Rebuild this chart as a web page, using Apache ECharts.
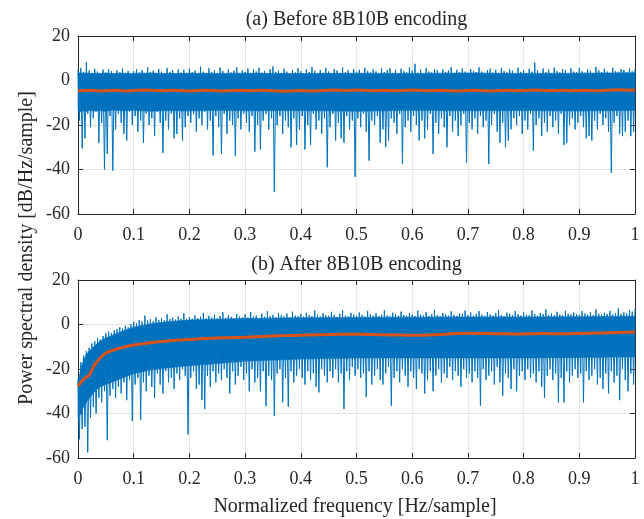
<!DOCTYPE html>
<html>
<head>
<meta charset="utf-8">
<script src="https://cdn.jsdelivr.net/npm/echarts@6/dist/echarts.min.js"></script>
<style>
  html, body { margin: 0; padding: 0; background: #fff; }
  #main { width: 644px; height: 519px; }
</style>
</head>
<body>
<div id="main"></div>
<script>
// DATA
// blue trace: local maxima every 0.005 (x = 0 .. 1)
// and local minima between them (x = 0.0025 .. 0.9975)
var beforePeaks = [
  4.8, 5.6, 3.9, 8.2, 4.5, 3.4, 5.3, 4.0, 2.6, 4.9, 3.5, 5.0, 4.2, 2.9, 4.6, 3.7, 5.4, 3.1, 4.3, 2.8,
  4.1, 5.1, 3.6, 4.7, 2.9, 5.9, 3.8, 4.4, 3.0, 5.2, 4.0, 3.3, 5.6, 3.9, 4.6, 2.7, 5.0, 3.5, 4.8, 3.2,
  5.3, 3.7, 4.5, 2.8, 6.2, 4.0, 3.4, 5.5, 3.9, 4.7, 3.1, 5.8, 4.3, 2.9, 5.0, 3.6, 4.4, 6.0, 3.3, 4.6,
  3.8, 5.4, 3.0, 4.9, 4.1, 5.7, 3.5, 4.3, 2.8, 5.1, 6.3, 3.9, 4.5, 3.2, 5.3, 4.0, 2.7, 4.8, 3.6, 5.5,
  4.2, 3.3, 5.0, 3.8, 6.1, 4.4, 2.9, 4.7, 3.5, 5.6, 4.1, 3.0, 5.2, 4.5, 3.4, 5.9, 3.7, 4.6, 2.8, 5.1,
  3.9, 4.8, 3.2, 5.7, 4.3, 3.6, 5.0, 4.1, 2.9, 5.4, 3.8, 4.6, 5.5, 3.4, 4.9, 3.1, 5.3, 4.2, 3.7, 5.8,
  4.4, 7.5, 3.5, 4.9, 3.0, 5.6, 4.1, 3.6, 5.2, 4.7, 2.8, 5.0, 3.9, 4.5, 6.0, 3.3, 4.8, 3.7, 5.4, 4.0,
  3.2, 5.1, 4.3, 3.8, 5.9, 4.0, 2.9, 4.6, 5.3, 3.5, 4.8, 3.1, 5.5, 4.2, 3.6, 5.0, 4.4, 3.0, 5.7, 3.9,
  4.7, 3.4, 5.2, 4.0, 8.0, 4.5, 3.1, 5.4, 3.8, 4.9, 3.3, 5.8, 4.2, 3.6, 5.1, 4.6, 2.9, 5.5, 4.0, 3.7,
  5.6, 4.1, 3.5, 5.0, 4.4, 3.2, 6.1, 4.6, 3.8, 5.3, 4.0, 3.4, 5.7, 4.3, 3.9, 5.1, 4.8, 3.6, 5.4, 4.2,
  5.0
];
var beforeDips = [
  -18, -30.5, -26, -15, -21, -17, -14, -28, -19, -40, -33, -16, -40.5, -22, -15, -19, -24, -27, -14, -20,
  -16, -23, -18, -28, -15, -20, -17, -25, -14, -19, -32.6, -18, -22, -15, -26, -24, -17, -27, -21, -16,
  -19, -15, -23, -17, -20, -14, -22, -18, -33.7, -16, -21, -33, -15, -24, -18, -20, -34, -17, -22, -15,
  -19, -23, -16, -32, -20, -31, -18, -15, -22, -17, -50, -20, -16, -24, -18, -21, -30, -17, -29, -22,
  -16, -31, -20, -29, -15, -22, -18, -24, -17, -39, -21, -15, -27, -19, -26, -28, -16, -22, -18, -43.3,
  -17, -21, -15, -23, -36, -18, -20, -16, -28, -22, -30, -27, -17, -19, -24, -15, -37.5, -21, -18, -23,
  -16, -20, -27, -18, -26, -22, -15, -33, -19, -24, -17, -21, -30, -16, -23, -18, -25, -20, -15, -37,
  -19, -22, -17, -24, -16, -21, -18, -37.5, -20, -15, -23, -28, -19, -30, -27, -22, -17, -20, -16, -24,
  -18, -22, -15, -31.5, -20, -17, -25, -19, -23, -16, -21, -18, -24, -15, -29, -28, -20, -17, -22, -19,
  -16, -21, -26, -25, -27, -18, -22, -15, -20, -17, -23, -41.5, -19, -16, -24, -25, -23, -18, -25, -23
];
var afterPeaks = [
  -24, -17, -14, -12, -10.5, -8.5, -7.5, -6, -6.8, -5.2, -4, -3.2, -3.8, -2.6, -2, -1.2, -1.8, -0.6, -1.3, 0.2,
  1.2, 0.6, 2.0, 1.4, 4.0, 1.8, 2.4, 1.5, 3.2, 2.1, 2.8, 1.9, 4.6, 2.5, 3.0, 2.2, 3.6, 2.7, 5.0, 2.4,
  3.3, 2.6, 4.1, 2.9, 3.5, 5.2, 2.8, 3.9, 3.1, 4.4, 2.7, 3.8, 5.5, 3.0, 4.2, 3.4, 2.9, 4.7, 3.6, 3.2,
  4.5, 3.1, 5.6, 3.7, 4.0, 2.9, 4.8, 3.5, 6.0, 3.8, 4.3, 3.2, 5.1, 4.1, 3.6, 4.9, 3.3, 5.8, 4.0, 3.7,
  4.6, 3.5, 5.3, 4.2, 3.8, 6.3, 4.4, 3.6, 5.0, 4.1, 3.9, 5.7, 4.3, 3.4, 4.8, 6.5, 4.0, 3.7, 5.2, 4.5,
  3.9, 5.4, 4.2, 3.6, 6.1, 4.7, 4.0, 5.0, 3.8, 4.4, 6.4, 4.1, 3.7, 5.3, 4.6, 3.9, 5.8, 4.3, 4.0, 5.1,
  4.4, 3.8, 6.2, 4.5, 4.1, 5.5, 3.9, 4.7, 6.6, 4.2, 3.8, 5.2, 4.6, 4.0, 5.9, 4.3, 3.9, 5.0, 4.8, 6.3,
  4.2, 5.4, 4.0, 4.7, 6.0, 4.4, 3.9, 5.6, 4.5, 4.1, 5.1, 6.4, 4.3, 3.8, 5.3, 4.8, 4.2, 6.1, 4.6, 4.0,
  5.5, 4.4, 4.1, 6.3, 4.7, 4.0, 5.2, 4.6, 6.8, 4.3, 4.9, 4.1, 5.7, 4.5, 4.2, 6.2, 4.8, 4.4, 5.4, 4.6,
  4.3, 6.0, 4.9, 4.5, 5.6, 4.2, 6.7, 4.8, 4.4, 5.3, 4.7, 6.1, 4.5, 5.0, 7.2, 4.6, 5.4, 4.9, 6.4, 5.8,
  7.0
];
var afterDips = [
  -51.6, -47, -46, -57.5, -42, -37, -40, -33, -35, -30, -52, -32, -29, -33, -28, -31, -26, -34, -25, -43.4,
  -27, -24, -42.8, -26, -30, -23, -28, -33, -22, -27, -31, -21, -26, -24, -29, -22, -25, -20, -23, -49.4,
  -24, -21, -29, -27, -34, -38, -23, -28, -21, -26, -22, -25, -20, -24, -31, -21, -27, -23, -19, -25,
  -22, -30, -20, -26, -24, -30, -21, -36.7, -23, -25, -41, -22, -20, -35, -24, -37, -21, -26, -23, -20,
  -24, -27, -21, -25, -22, -28, -30.5, -20, -23, -26, -21, -24, -20, -26, -22, -38, -21, -25, -19, -23,
  -20, -24, -22, -32.6, -21, -27, -23, -20, -25, -27, -22, -19, -36.5, -24, -21, -26, -20, -23, -28, -21,
  -24, -29, -20, -22, -31, -25, -21, -30, -23, -20, -26, -22, -24, -19, -25, -21, -23, -28, -20, -24,
  -22, -26, -21, -24, -36.5, -20, -25, -23, -21, -27, -19, -26, -32, -22, -24, -29, -20, -30, -23, -21,
  -25, -20, -24, -22, -26, -21, -28, -33, -23, -20, -25, -22, -35, -24, -35, -21, -26, -23, -20, -24,
  -22, -35, -21, -25, -23, -20, -27, -24, -29, -22, -31, -21, -26, -23, -34, -20, -25, -30, -22, -27
];
// solid (dense) part of the blue trace
var bandX = [0, 0.005, 0.01, 0.015, 0.02, 0.03, 0.04, 0.05, 0.06, 0.08, 0.1, 0.13, 0.16, 0.2, 0.25, 0.3, 0.4, 0.5, 0.6, 0.7, 0.8, 0.9, 1.0];
var beforeBandHi = [3.3, 3.5, 3.2, 3.4, 3.1, 3.3, 3.2, 3.4, 3.1, 3.3, 3.2, 3.4, 3.1, 3.3, 3.2, 3.3, 3.1, 3.3, 3.2, 3.4, 3.2, 3.3, 3.5];
var beforeBandLo = [-13.5, -14, -13.6, -13.8, -13.4, -13.7, -13.5, -13.9, -13.3, -13.6, -13.4, -13.8, -13.5, -13.7, -13.4, -13.6, -13.5, -13.8, -13.4, -13.6, -13.5, -13.7, -13.4];
var afterBandHi = [-26, -20, -16, -13.5, -12, -9.5, -7.5, -6, -5, -3, -1.2, 0.3, 1.2, 2.0, 2.4, 2.7, 3.0, 3.2, 3.3, 3.4, 3.4, 3.5, 3.7];
var afterBandLo = [-42, -40, -37, -35, -33, -30, -28, -27, -26, -24, -22, -20.5, -19.5, -18.5, -17.5, -16.5, -15.5, -15, -15, -15, -15, -14.8, -14.5];
// orange smoothed curve, every 0.01
var beforeMean = [
  -4.5, -4.6, -4.4, -4.5, -4.7, -4.6, -4.5, -4.4, -4.6, -4.7,
  -4.5, -4.4, -4.3, -4.4, -4.5, -4.6, -4.5, -4.4, -4.5, -4.6,
  -4.7, -4.6, -4.5, -4.4, -4.5, -4.6, -4.7, -4.6, -4.5, -4.4,
  -4.5, -4.6, -4.5, -4.4, -4.5, -4.6, -4.7, -4.8, -4.7, -4.6,
  -4.5, -4.6, -4.7, -4.6, -4.5, -4.4, -4.3, -4.4, -4.5, -4.4,
  -4.3, -4.4, -4.5, -4.6, -4.5, -4.4, -4.5, -4.6, -4.5, -4.4,
  -4.3, -4.4, -4.5, -4.6, -4.5, -4.4, -4.5, -4.6, -4.7, -4.6,
  -4.5, -4.4, -4.5, -4.6, -4.7, -4.6, -4.5, -4.4, -4.5, -4.6,
  -4.5, -4.4, -4.3, -4.4, -4.5, -4.6, -4.5, -4.4, -4.5, -4.6,
  -4.5, -4.4, -4.5, -4.6, -4.5, -4.4, -4.3, -4.2, -4.3, -4.4, -4.3
];
var afterMean = [
  -27.7, -24.6, -22.8, -18, -15, -12.8, -11.8, -11, -10.3, -9.7,
  -9.2, -8.9, -8.5, -8.2, -7.9, -7.6, -7.4, -7.2, -7.0, -6.9,
  -6.7, -6.6, -6.4, -6.3, -6.2, -6.1, -6.0, -5.9, -5.8, -5.8,
  -5.7, -5.6, -5.5, -5.4, -5.3, -5.2, -5.1, -5.0, -4.9, -4.9,
  -4.8, -4.7, -4.7, -4.6, -4.6, -4.5, -4.5, -4.4, -4.4, -4.4,
  -4.4, -4.4, -4.5, -4.5, -4.6, -4.6, -4.7, -4.7, -4.7, -4.8,
  -4.8, -4.8, -4.8, -4.7, -4.6, -4.5, -4.4, -4.2, -4.1, -4.0,
  -3.9, -3.9, -4.0, -4.1, -4.1, -4.2, -4.2, -4.2, -4.3, -4.3,
  -4.3, -4.2, -4.2, -4.1, -4.1, -4.2, -4.2, -4.2, -4.2, -4.1,
  -4.0, -3.9, -3.9, -3.8, -3.8, -3.7, -3.7, -3.6, -3.5, -3.5, -3.4
];
var titles = ['(a) Before 8B10B encoding', '(b) After 8B10B encoding'];
var xName = 'Normalized frequency [Hz/sample]';
var yName = 'Power spectral density [dB/Hz/sample]';

var FONT = 'Liberation Serif';
var INK = '#262626';
var BLUE = '#0072BD';
var ORANGE = '#D95319';

// peaks and dips alternate along x
function trace(peaks, dips) {
  var out = [];
  for (var i = 0; i < peaks.length; i++) {
    out.push([i * 0.005, peaks[i]]);
    if (i < dips.length) out.push([i * 0.005 + 0.0025, dips[i]]);
  }
  return out;
}
function curve(vals) {
  return vals.map(function (v, i) { return [i * 0.01, v]; });
}
function band(lo, hi) {
  return bandX.map(function (x, i) { return [x, lo[i], hi[i]]; });
}

// one quad per band segment, corners through the axes
function renderBand(params, api) {
  var i = params.dataIndexInside;
  if (i >= params.dataInsideLength - 1) return null;
  var x0 = api.value(0, i), x1 = api.value(0, i + 1);
  var pts = [
    api.coord([x0, api.value(2, i)]),
    api.coord([x1, api.value(2, i + 1)]),
    api.coord([x1, api.value(1, i + 1)]),
    api.coord([x0, api.value(1, i)])
  ];
  return {
    type: 'polygon',
    shape: {points: pts},
    style: {fill: BLUE, stroke: BLUE, lineWidth: 0.6}
  };
}

var grids = [
  {left: 78, top: 36, width: 557, height: 178},
  {left: 78, top: 280, width: 557, height: 178}
];

var xAxes = [], yAxes = [];
grids.forEach(function (g, k) {
  xAxes.push({
    type: 'value', gridIndex: k, min: 0, max: 1, interval: 0.1, position: 'bottom',
    axisLine: {onZero: false, lineStyle: {color: INK, width: 1}},
    axisTick: {inside: true, length: 5, lineStyle: {color: INK}},
    axisLabel: {color: INK, fontFamily: FONT, fontSize: 18, margin: 12},
    splitLine: {show: true, lineStyle: {color: '#e5e5e5', width: 1}}
  });
  xAxes.push({
    type: 'value', gridIndex: k, min: 0, max: 1, interval: 0.1, position: 'top',
    axisLine: {onZero: false, lineStyle: {color: INK, width: 1}},
    axisTick: {inside: true, length: 5, lineStyle: {color: INK}},
    axisLabel: {show: false}, splitLine: {show: false}
  });
  yAxes.push({
    type: 'value', gridIndex: k, min: -60, max: 20, interval: 20, position: 'left',
    axisLine: {show: true, onZero: false, lineStyle: {color: INK, width: 1}},
    axisTick: {show: true, inside: true, length: 5, lineStyle: {color: INK}},
    axisLabel: {color: INK, fontFamily: FONT, fontSize: 18, margin: 8},
    splitLine: {show: true, lineStyle: {color: '#e5e5e5', width: 1}}
  });
  yAxes.push({
    type: 'value', gridIndex: k, min: -60, max: 20, interval: 20, position: 'right',
    axisLine: {show: true, onZero: false, lineStyle: {color: INK, width: 1}},
    axisTick: {show: true, inside: true, length: 5, lineStyle: {color: INK}},
    axisLabel: {show: false}, splitLine: {show: false}
  });
});

var traces = [trace(beforePeaks, beforeDips), trace(afterPeaks, afterDips)];
var bands = [band(beforeBandLo, beforeBandHi), band(afterBandLo, afterBandHi)];
var means = [curve(beforeMean), curve(afterMean)];

var series = [];
for (var k = 0; k < 2; k++) {
  series.push({
    type: 'custom', xAxisIndex: 2 * k, yAxisIndex: 2 * k, data: bands[k],
    renderItem: renderBand, encode: {x: 0, y: [1, 2]}, z: 2, silent: true
  });
  series.push({
    type: 'line', xAxisIndex: 2 * k, yAxisIndex: 2 * k, data: traces[k],
    showSymbol: false, sampling: false, z: 2,
    lineStyle: {color: BLUE, width: 1}, itemStyle: {color: BLUE}
  });
  series.push({
    type: 'line', xAxisIndex: 2 * k, yAxisIndex: 2 * k, data: means[k],
    showSymbol: false, smooth: false, z: 3,
    lineStyle: {color: ORANGE, width: 3}, itemStyle: {color: ORANGE}
  });
}

function label(txt, x, y, rot) {
  return {
    type: 'text', x: x, y: y, rotation: rot || 0, z: 10,
    style: {
      text: txt, font: '20px "' + FONT + '"', fill: INK,
      align: 'center', verticalAlign: 'middle',
      textAlign: 'center', textVerticalAlign: 'middle'
    }
  };
}

var chart = echarts.init(document.getElementById('main'));
chart.setOption({
  animation: false,
  backgroundColor: '#fff',
  grid: grids,
  xAxis: xAxes,
  yAxis: yAxes,
  series: series,
  graphic: [
    label(titles[0], 356.5, 20),
    label(titles[1], 356.5, 265),
    label(xName, 355, 507),
    label(yName, 27, 248, Math.PI / 2)
  ]
});
</script>
</body>
</html>
